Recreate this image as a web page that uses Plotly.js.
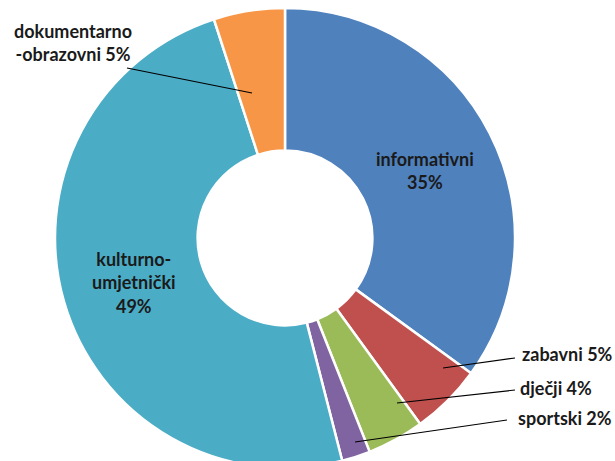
<!DOCTYPE html>
<html><head><meta charset="utf-8">
<script src="https://cdn.plot.ly/plotly-3.0.1.min.js"></script>
<style>html,body{margin:0;padding:0;overflow:hidden;background:#fff}#chart{width:615px;height:476px}</style>
</head><body><div id="chart"></div>
<script>
const categories = ["informativni", "zabavni", "dječji", "sportski", "kulturno-umjetnički", "dokumentarno-obrazovni"];
const shares = [35, 5, 4, 2, 49, 5];
const colors = ["#4F81BD", "#C0504D", "#9BBB59", "#8064A2", "#4BACC6", "#F79646"];
const labelLines = [
  ["informativni", "35%"],
  ["zabavni 5%"],
  ["dječji 4%"],
  ["sportski 2%"],
  ["kulturno-", "umjetnički", "49%"],
  ["dokumentarno", "-obrazovni 5%"]
];

const W = 615, H = 476;
const px = x => x / W, py = y => 1 - y / H;

const labelPos = [
  {x: 425, y: 170},
  {x: 567, y: 354},
  {x: 556, y: 388},
  {x: 565, y: 418},
  {x: 134, y: 282},
  {x: 73, y: 42}
];
const leaders = [null,
  [515, 358, 443, 368],
  [515, 390, 397, 403],
  [507, 420, 355, 442],
  null,
  [127, 68, 252, 93]
];

const font = {family: 'Lato, "Open Sans", sans-serif', size: 18, color: '#1A1A1A'};
const annotations = labelLines.map((lines, i) => ({
  xref: 'paper', yref: 'paper', x: px(labelPos[i].x), y: py(labelPos[i].y),
  xanchor: 'center', yanchor: 'middle', showarrow: false, align: 'center',
  text: lines.map(s => '<b>' + s + '</b>').join('<br>'), font: font
}));
const shapes = leaders.filter(l => l).map(l => ({
  type: 'line', xref: 'paper', yref: 'paper',
  x0: px(l[0]), y0: py(l[1]), x1: px(l[2]), y1: py(l[3]),
  line: {color: '#000', width: 1.2}
}));

Plotly.newPlot('chart', [{
  type: 'pie', labels: categories, values: shares, hole: 0.38,
  sort: false, direction: 'clockwise', rotation: 0,
  marker: {colors: colors, line: {color: '#fff', width: 2.5}},
  textinfo: 'none', hoverinfo: 'label+percent', showlegend: false,
  domain: {x: [55 / W, 515 / W], y: [8 / H, 468 / H]}
}], {
  width: W, height: H, margin: {l: 0, r: 0, t: 0, b: 0},
  paper_bgcolor: '#fff', showlegend: false,
  annotations: annotations, shapes: shapes
}, {displayModeBar: false, staticPlot: true});
</script></body></html>
